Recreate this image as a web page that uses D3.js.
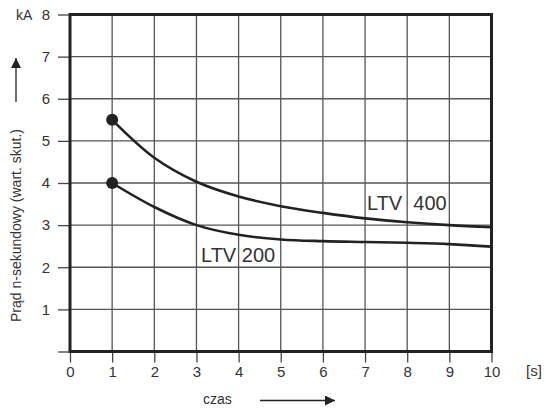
<!DOCTYPE html>
<html>
<head>
<meta charset="utf-8">
<script src="https://cdn.jsdelivr.net/npm/d3@7"></script>
<style>
  body { margin: 0; background: #fff; }
  text { font-family: "Liberation Sans", Arial, sans-serif; fill: #333; }
</style>
</head>
<body>
<div id="chart"></div>
<script>
// LTV current transformer: n-second current vs time

var timeSec = [1, 2, 3, 4, 5, 6, 7, 8, 9, 10];
var ltv400 = [5.5, 4.6, 4.03, 3.68, 3.45, 3.29, 3.16, 3.07, 3.0, 2.95];
var ltv200 = [4.0, 3.43, 3.0, 2.77, 2.66, 2.62, 2.6, 2.58, 2.55, 2.49];
var xTicks = [0, 1, 2, 3, 4, 5, 6, 7, 8, 9, 10];
var yTicks = [1, 2, 3, 4, 5, 6, 7, 8];

var width = 546, height = 412;
var margin = {top: 14.5, left: 70, right: 54.5, bottom: 60.5};

var svg = d3.select("#chart")
    .append("svg")
    .attr("width", width)
    .attr("height", height);

var x = d3.scaleLinear().domain([0, 10]).range([margin.left, width - margin.right]);
var y = d3.scaleLinear().domain([0, 8]).range([height - margin.bottom, margin.top]);

// grid
svg.append("g")
    .selectAll("line")
    .data(xTicks.slice(1, -1))
    .enter().append("line")
    .attr("x1", function(d) { return x(d); })
    .attr("x2", function(d) { return x(d); })
    .attr("y1", y(0)).attr("y2", y(8))
    .attr("stroke", "#555").attr("stroke-width", 1.3);

svg.append("g")
    .selectAll("line")
    .data(yTicks.slice(0, -1))
    .enter().append("line")
    .attr("x1", x(0)).attr("x2", x(10))
    .attr("y1", function(d) { return y(d); })
    .attr("y2", function(d) { return y(d); })
    .attr("stroke", "#555").attr("stroke-width", 1.3);

// axes
var xAxis = d3.axisBottom(x).tickValues(xTicks).tickSize(11).tickPadding(4);
var yAxis = d3.axisLeft(y).tickValues([0].concat(yTicks)).tickSize(12).tickPadding(8)
    .tickFormat(function(d) { return d === 0 ? "" : d; });

var gx = svg.append("g").attr("transform", "translate(0," + y(0) + ")").call(xAxis);
var gy = svg.append("g").attr("transform", "translate(" + x(0) + ",0)").call(yAxis);

[gx, gy].forEach(function(g) {
    g.select(".domain").remove();
    g.selectAll(".tick line").attr("stroke", "#444").attr("stroke-width", 1.3);
    g.selectAll(".tick text")
        .attr("fill", "#444")
        .style("font-family", "'Liberation Sans', Arial, sans-serif")
        .style("font-size", "15px");
});

// frame
svg.append("rect")
    .attr("x", x(0)).attr("y", y(8))
    .attr("width", x(10) - x(0)).attr("height", y(0) - y(8))
    .attr("fill", "none").attr("stroke", "#222").attr("stroke-width", 3);

// curves
var line = d3.line()
    .x(function(d) { return x(d[0]); })
    .y(function(d) { return y(d[1]); })
    .curve(d3.curveCatmullRom.alpha(0.5));

[ltv400, ltv200].forEach(function(s) {
    var pts = timeSec.map(function(t, i) { return [t, s[i]]; });
    svg.append("path")
        .datum(pts)
        .attr("d", line)
        .attr("fill", "none")
        .attr("stroke", "#222")
        .attr("stroke-width", 2.6);
    svg.append("circle")
        .attr("cx", x(pts[0][0])).attr("cy", y(pts[0][1]))
        .attr("r", 6).attr("fill", "#222");
});

// labels
svg.append("text").attr("x", 367).attr("y", 210)
    .style("font-size", "20px").style("white-space", "pre")
    .attr("xml:space", "preserve")
    .text("LTV  400");
svg.append("text").attr("x", 201).attr("y", 262)
    .style("font-size", "20px")
    .text("LTV 200");

svg.append("text").attr("x", 16).attr("y", 20)
    .style("font-size", "14px").text("kA");
svg.append("text").attr("x", 526).attr("y", 376)
    .style("font-size", "15px").text("[s]");

svg.append("text").attr("x", 203).attr("y", 404)
    .style("font-size", "14px").text("czas");

svg.append("text")
    .attr("transform", "translate(21,322) rotate(-90)")
    .style("font-size", "14px")
    .text("Prąd n-sekundowy (wart. skut.)");

// arrows
svg.append("defs").append("marker")
    .attr("id", "arr")
    .attr("viewBox", "0 0 10 10")
    .attr("refX", 10).attr("refY", 5)
    .attr("markerWidth", 10).attr("markerHeight", 10)
    .attr("markerUnits", "userSpaceOnUse")
    .attr("orient", "auto")
    .append("path").attr("d", "M0,0L10,5L0,10Z").attr("fill", "#222");

svg.append("line")
    .attr("x1", 260).attr("x2", 335).attr("y1", 400.5).attr("y2", 400.5)
    .attr("stroke", "#222").attr("stroke-width", 1.3)
    .attr("marker-end", "url(#arr)");

svg.append("line")
    .attr("x1", 16).attr("x2", 16).attr("y1", 102).attr("y2", 58)
    .attr("stroke", "#222").attr("stroke-width", 1.3)
    .attr("marker-end", "url(#arr)");
</script>
</body>
</html>
